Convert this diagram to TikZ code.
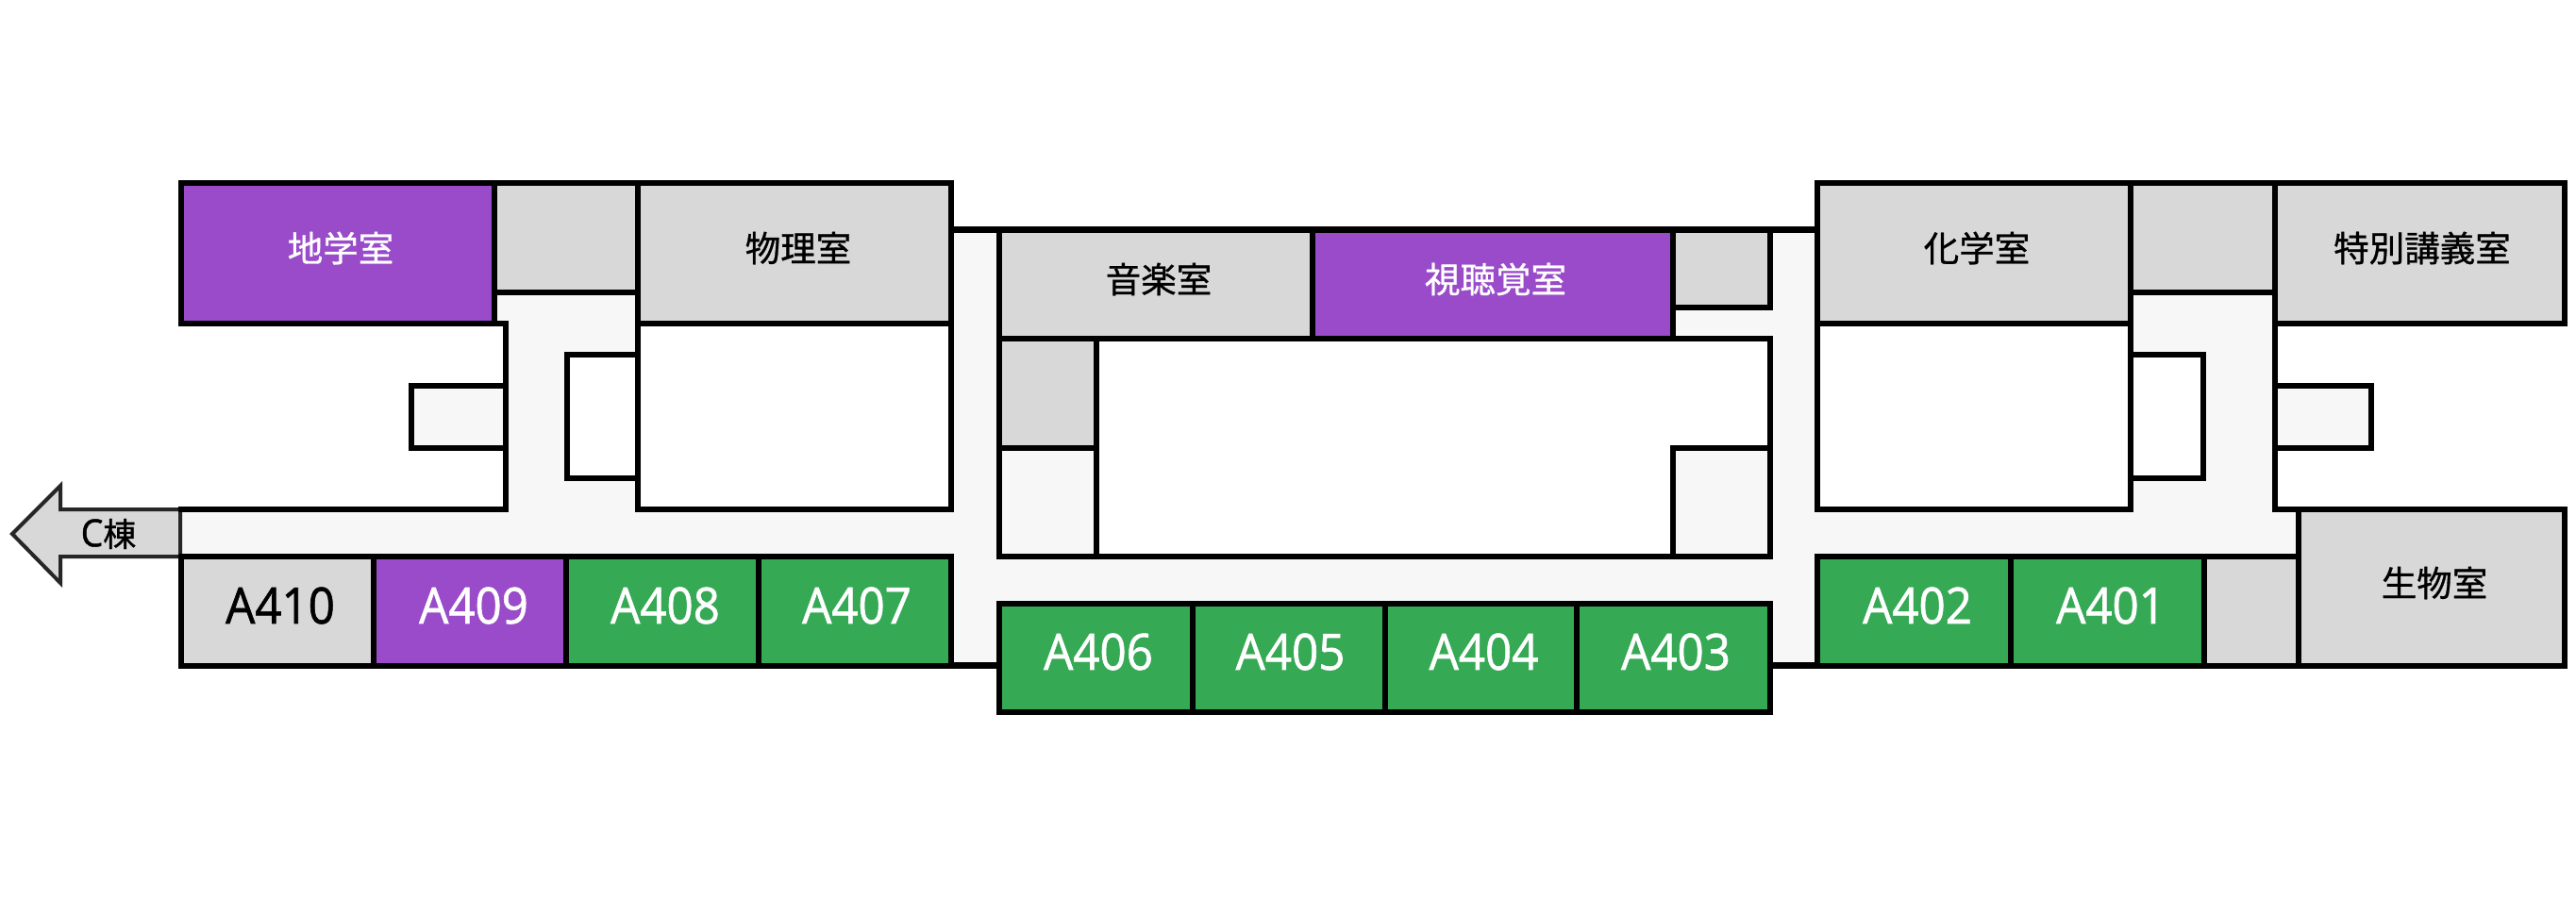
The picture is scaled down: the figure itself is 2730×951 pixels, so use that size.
\documentclass[tikz,border=0pt]{standalone}
\usepackage{fontspec}
\setmainfont[FakeStretch=0.93,FakeBold=1.2]{Open Sans}
\newfontfamily\cjk[FakeBold=0.8]{Noto Sans CJK JP}
\definecolor{hall}{HTML}{F7F7F7}
\definecolor{graybox}{HTML}{D8D8D8}
\definecolor{purplebox}{HTML}{994BC9}
\definecolor{greenbox}{HTML}{36A955}
\tikzset{
  wall/.style={draw=black,line width=6.5pt,line join=miter,line cap=rect},
  gr/.style={wall,fill=graybox},
  pu/.style={wall,fill=purplebox},
  gn/.style={wall,fill=greenbox},
  wh/.style={wall,fill=white},
  hl/.style={wall,fill=hall},
  roomlabel/.style={inner sep=0pt,font=\fontsize{37.5}{37.5}\selectfont\cjk},
  numlabel/.style={inner sep=0pt,font=\fontsize{53}{53}\selectfont},
  arrowbox/.style={draw=black!85,line width=4pt,fill=graybox,line join=miter},
}
\begin{document}
\begin{tikzpicture}[x=1pt,y=-1pt]
\useasboundingbox (0,0) rectangle (2730,951);
% corridors
\fill[hall] (192,540) rectangle (1008,590);
\fill[hall] (524,310) rectangle (676,343);
\fill[hall] (536,343) rectangle (676,540);
\fill[hall] (1008,243) rectangle (1059,705);
\fill[hall] (1008,590) rectangle (1927,640);
\fill[hall] (1876,243) rectangle (1927,705);
\fill[hall] (1927,540) rectangle (2436,590);
\fill[hall] (2258,310) rectangle (2411,540);
% top and bottom corridor walls
\draw[wall] (1008,243.5) -- (1926,243.5);
\draw[wall] (1008,705.5) -- (1059,705.5);
\draw[wall] (1876,705.5) -- (1926,705.5);
% arrow
\draw[arrowbox] (13,566) -- (64,515) -- (64,540) -- (191,540) -- (191,590) -- (64,590) -- (64,618) -- cycle;
% left wing
\draw[hl] (536,409) -- (436,409) -- (436,475) -- (536,475);
\draw[wall] (524,343) -- (536,343) -- (536,540) -- (192,540);
\draw[wh] (676,376) -- (601,376) -- (601,507) -- (676,507);
\draw[wh] (676,343) rectangle (1008,540);
\draw[pu] (192,194) rectangle (524,343);
\draw[gr] (524,194) rectangle (676,310);
\draw[gr] (676,194) rectangle (1008,343);
\draw[gr] (192,590) rectangle (396,706);
\draw[pu] (396,590) rectangle (600,706);
\draw[gn] (600,590) rectangle (804,706);
\draw[gn] (804,590) rectangle (1008,706);
% centre block
\draw[wh] (1162,359) rectangle (1876,590);
\fill[hall] (1773,326) rectangle (1880,355.5);
\draw[hl] (1773,590) -- (1773,475) -- (1876,475) -- (1876,590) -- cycle;
\draw[hl] (1059,475) rectangle (1162,590);
\draw[gr] (1059,359) rectangle (1162,475);
\draw[gr] (1059,243.5) rectangle (1391,359);
\draw[pu] (1391,243.5) rectangle (1773,359);
\draw[gr] (1773,243.5) rectangle (1876,326);
\draw[gn] (1059,640) rectangle (1264,755);
\draw[gn] (1264,640) rectangle (1468,755);
\draw[gn] (1468,640) rectangle (1671,755);
\draw[gn] (1671,640) rectangle (1876,755);
% right wing
\draw[wh] (2258,376) -- (2335,376) -- (2335,507) -- (2258,507);
\draw[wh] (1926,343) rectangle (2258,540);
\draw[hl] (2411,409) -- (2513,409) -- (2513,475) -- (2411,475);
\draw[wall] (2411,343) -- (2411,540) -- (2718,540);
\draw[gr] (1926,194) rectangle (2258,343);
\draw[gr] (2258,194) rectangle (2411,310);
\draw[gr] (2411,194) rectangle (2718,343);
\draw[gn] (1926,590) rectangle (2131,706);
\draw[gn] (2131,590) rectangle (2336,706);
\draw[gr] (2336,590) rectangle (2436,706);
\draw[gr] (2436,540) rectangle (2718,706);
% labels
\node[roomlabel,text=white] (chigaku) at (361,263) {地学室};
\node[roomlabel] (butsuri) at (846,263) {物理室};
\node[roomlabel] (ongaku) at (1228,296) {音楽室};
\node[roomlabel,text=white] (shichokaku) at (1585,296) {視聴覚室};
\node[roomlabel] (kagaku) at (2095,263) {化学室};
\node[roomlabel] (tokubetsu) at (2567,263) {特別講義室};
\node[roomlabel] (seibutsu) at (2580,618) {生物室};
\node[inner sep=0pt,font=\fontsize{40}{40}\selectfont] (cto) at (115,566) {C{\cjk\fontsize{35}{35}\selectfont 棟}};
\node[numlabel] (a410) at (297,642) {A410};
\node[numlabel,text=white] (a409) at (502,642) {A409};
\node[numlabel,text=white] (a408) at (705,642) {A408};
\node[numlabel,text=white] (a407) at (908,642) {A407};
\node[numlabel,text=white] (a406) at (1164,691) {A406};
\node[numlabel,text=white] (a405) at (1367.5,691) {A405};
\node[numlabel,text=white] (a404) at (1572.5,691) {A404};
\node[numlabel,text=white] (a403) at (1776,691) {A403};
\node[numlabel,text=white] (a402) at (2032,642) {A402};
\node[numlabel,text=white] (a401) at (2237,642) {A401};
\end{tikzpicture}
\end{document}
